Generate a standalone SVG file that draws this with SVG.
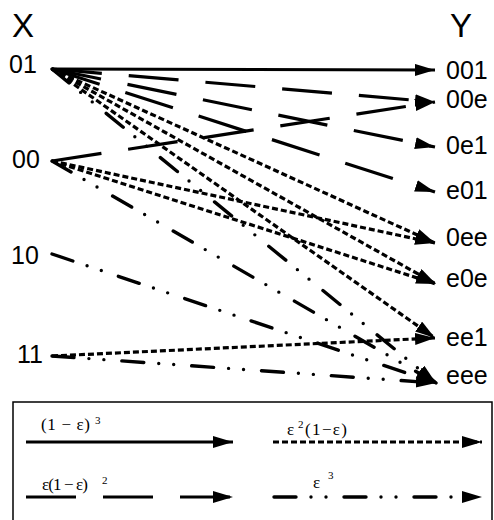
<svg xmlns="http://www.w3.org/2000/svg" width="494" height="520" viewBox="0 0 494 520">
<style>
.lbl{font-family:"Liberation Sans",Arial,sans-serif;font-size:25px;fill:#000}
.hdr{font-family:"Liberation Sans",Arial,sans-serif;font-size:33px;fill:#000}
.leg{font-family:"Liberation Serif","Times New Roman",serif;font-size:17px;fill:#000}
.sup{font-family:"Liberation Serif","Times New Roman",serif;font-size:11px;fill:#000}
.c{fill:none;stroke:#000;marker-end:url(#ah)}
.solid{stroke-width:3}
.dash{stroke-width:3.2;stroke-dasharray:50 27}
.dot{stroke-width:3.2;stroke-dasharray:6 3}
.dd{stroke-width:3.4;stroke-linecap:round;stroke-dasharray:22 15 0 15 0 18}
</style>
<defs>
<marker id="ah" markerUnits="userSpaceOnUse" markerWidth="22" markerHeight="14" refX="20" refY="6" orient="auto">
<path d="M0,0 L20,6 L0,12 z" fill="#000"/>
</marker>
</defs>
<rect width="494" height="520" fill="#fff"/>

<g id="header-X"><text class="hdr" x="12" y="37">X</text></g>
<g id="header-Y"><text class="hdr" x="450" y="37">Y</text></g>

<g id="x01"><text class="lbl" x="9" y="73">01</text></g>
<g id="x00"><text class="lbl" x="12" y="168">00</text></g>
<g id="x10"><text class="lbl" x="11" y="264">10</text></g>
<g id="x11"><text class="lbl" x="17" y="363">11</text></g>

<g id="y001"><text class="lbl" x="446" y="79">001</text></g>
<g id="y00e"><text class="lbl" x="446" y="108">00e</text></g>
<g id="y0e1"><text class="lbl" x="446" y="154">0e1</text></g>
<g id="ye01"><text class="lbl" x="446" y="199">e01</text></g>
<g id="y0ee"><text class="lbl" x="446" y="246">0ee</text></g>
<g id="ye0e"><text class="lbl" x="446" y="287">e0e</text></g>
<g id="yee1"><text class="lbl" x="446" y="346">ee1</text></g>
<g id="yeee"><text class="lbl" x="446" y="384">eee</text></g>

<g id="connectors">
<line class="c solid" x1="52" y1="69" x2="435" y2="70"/>
<line class="c dash" x1="52" y1="69" x2="435" y2="102"/>
<line class="c dash" x1="52" y1="161" x2="435" y2="102"/>
<line class="c dash" x1="52" y1="69" x2="435" y2="147"/>
<line class="c dash" x1="52" y1="69" x2="435" y2="192"/>
<line class="c dot" x1="52" y1="69" x2="435" y2="243"/>
<line class="c dot" x1="52" y1="69" x2="436" y2="284"/>
<line class="c dot" x1="52" y1="69" x2="435" y2="338"/>
<line class="c dd" x1="52" y1="69" x2="436" y2="383"/>
<line class="c dot" x1="52" y1="161" x2="435" y2="243"/>
<line class="c dot" x1="52" y1="161" x2="436" y2="284"/>
<line class="c dd" x1="52" y1="161" x2="436" y2="383"/>
<line class="c dd" x1="52" y1="254" x2="436" y2="383"/>
<line class="c dot" x1="52" y1="356" x2="435" y2="338"/>
<line class="c dd" x1="52" y1="356" x2="436" y2="383"/>
</g>

<g id="legend">
<path d="M13,522 L13,402 L492,402 L492,522" fill="none" stroke="#000" stroke-width="1.5"/>
<line class="c solid" x1="26" y1="442" x2="233" y2="442"/>
<text class="leg" x="41" y="430" font-size="17.5" textLength="49">(1 − ε)</text>
<text class="sup" x="95" y="424">3</text>
<line class="c dash" x1="26" y1="497" x2="233" y2="497"/>
<text class="leg" x="42" y="490" font-size="17" textLength="46">ε(1 − ε)</text>
<text class="sup" x="102" y="484">2</text>
<line class="c dot" x1="273" y1="442" x2="482" y2="442"/>
<text class="leg" x="287" y="435" font-size="19">ε</text>
<text class="sup" x="298" y="428">2</text>
<text class="leg" x="305" y="435" font-size="19" textLength="42">(1−ε)</text>
<line class="c dd" x1="274" y1="497" x2="482" y2="497"/>
<text class="leg" x="313" y="488" font-size="18">ε</text>
<text class="sup" x="328" y="479">3</text>
</g>
</svg>
